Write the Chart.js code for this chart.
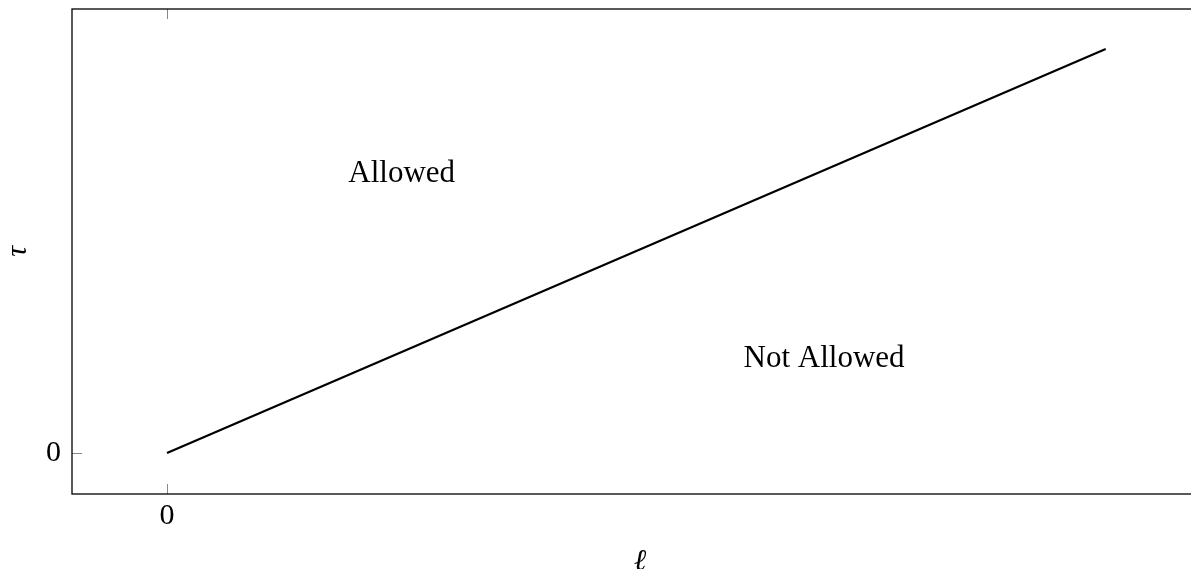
<!DOCTYPE html>
<html>
<head>
<meta charset="utf-8">
<script src="https://cdn.jsdelivr.net/npm/chart.js@4/dist/chart.umd.min.js"></script>
<style>
  html, body { margin: 0; padding: 0; background: #fff; overflow: hidden; }
  #wrap { width: 1191px; height: 569px; overflow: hidden; }
</style>
</head>
<body>
<div id="wrap"><canvas id="c" width="1230" height="569"></canvas></div>
<script>
// Data
const lineX = [0, 10];
const lineY = [0, 4.3];
const xTicks = [0];
const yTicks = [0];
const xRange = [-1.012, 11.09];
const yRange = [-0.436, 4.726];
const regionLabels = ['Allowed', 'Not Allowed'];
const regionX = [2.5, 7.0];
const regionY = [2.97, 1.0];
const xTitle = 'ℓ';
const yTitle = 'τ';

const serif = '"Liberation Serif", "DejaVu Serif", serif';

const framePlugin = {
  id: 'frame',
  afterDatasetsDraw(chart) {
    const ctx = chart.ctx;
    const a = chart.chartArea;
    const xs = chart.scales.x, ys = chart.scales.y;
    ctx.save();
    // inner tick marks
    ctx.strokeStyle = '#888';
    ctx.lineWidth = 1;
    const L = 10;
    ctx.beginPath();
    xs.ticks.forEach(t => {
      const px = Math.round(xs.getPixelForValue(t.value)) + 0.5;
      ctx.moveTo(px, a.bottom); ctx.lineTo(px, a.bottom - L);
      ctx.moveTo(px, a.top); ctx.lineTo(px, a.top + L);
    });
    ys.ticks.forEach(t => {
      const py = Math.round(ys.getPixelForValue(t.value)) + 0.5;
      ctx.moveTo(a.left, py); ctx.lineTo(a.left + L, py);
      ctx.moveTo(a.right, py); ctx.lineTo(a.right - L, py);
    });
    ctx.stroke();
    // frame
    ctx.strokeStyle = '#000';
    ctx.lineWidth = 1.3;
    ctx.strokeRect(a.left, a.top, a.right - a.left, a.bottom - a.top);
    // region labels
    ctx.fillStyle = '#000';
    ctx.font = '31px ' + serif;
    ctx.textAlign = 'center';
    ctx.textBaseline = 'middle';
    regionLabels.forEach((s, i) => {
      ctx.fillText(s, xs.getPixelForValue(regionX[i]), ys.getPixelForValue(regionY[i]));
    });
    ctx.restore();
  }
};

new Chart(document.getElementById('c'), {
  type: 'scatter',
  data: {
    datasets: [{
      data: lineX.map((x, i) => ({ x: x, y: lineY[i] })),
      showLine: true,
      borderColor: '#000',
      borderWidth: 2.2,
      pointRadius: 0,
      fill: false,
      tension: 0
    }]
  },
  options: {
    responsive: false,
    animation: false,
    layout: { padding: { top: 9, right: 22, left: 0, bottom: 0 } },
    plugins: { legend: { display: false }, tooltip: { enabled: false } },
    scales: {
      x: {
        type: 'linear',
        min: xRange[0], max: xRange[1],
        afterBuildTicks: s => { s.ticks = xTicks.map(v => ({ value: v })); },
        afterFit: s => { s.height = 75; s.paddingLeft = 0; s.paddingRight = 0; },
        grid: { display: false, drawTicks: false },
        border: { display: false },
        ticks: { color: '#000', padding: 4, font: { family: serif, size: 30 }, callback: v => String(v), maxRotation: 0 },
        title: { display: true, text: xTitle, color: '#000', padding: 0,
                 font: { family: serif, size: 30, style: 'italic', lineHeight: 0.45 } }
      },
      y: {
        type: 'linear',
        min: yRange[0], max: yRange[1],
        afterBuildTicks: s => { s.ticks = yTicks.map(v => ({ value: v })); },
        afterFit: s => { s.width = 72; s.paddingTop = 0; s.paddingBottom = 0; },
        grid: { display: false, drawTicks: false },
        border: { display: false },
        ticks: { color: '#000', padding: 11, font: { family: serif, size: 30 }, callback: v => String(v) },
        title: { display: true, text: yTitle, color: '#000', padding: 0,
                 font: { family: serif, size: 30, style: 'italic', lineHeight: 1.2 } }
      }
    }
  },
  plugins: [framePlugin]
});
</script>
</body>
</html>
